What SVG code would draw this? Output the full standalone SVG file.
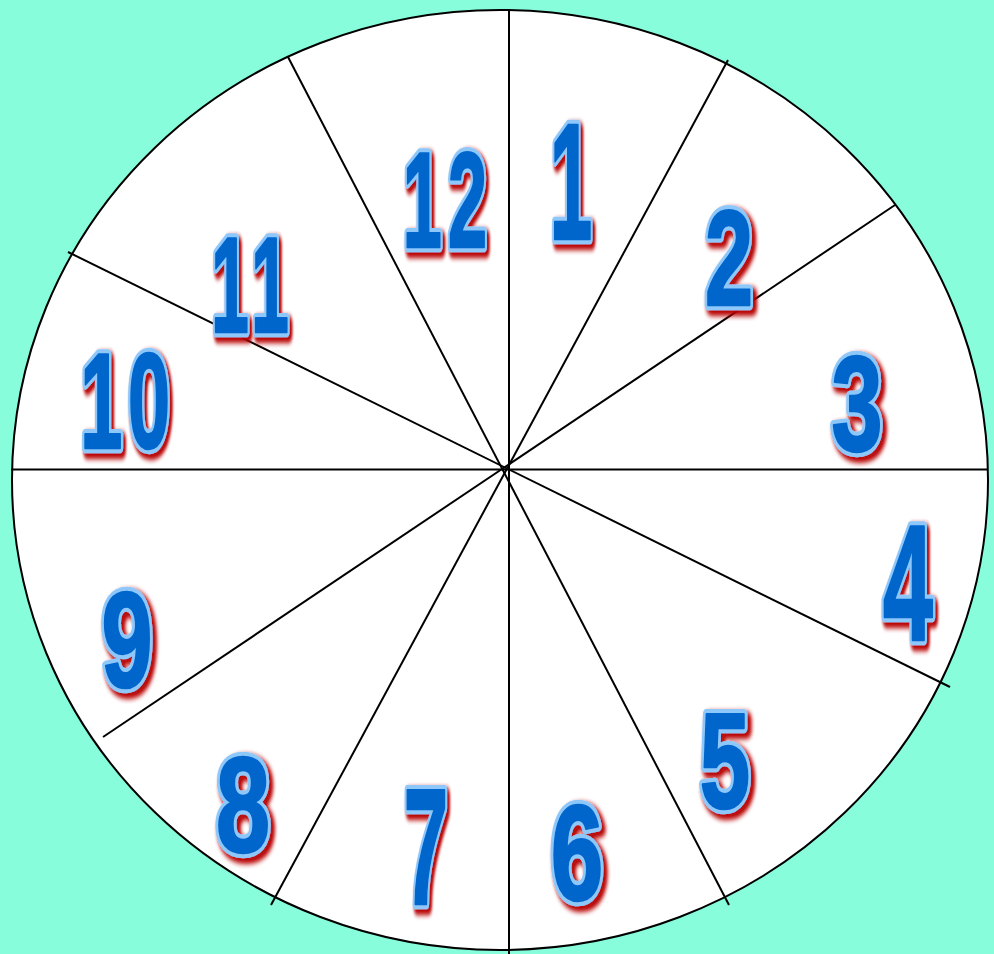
<svg xmlns="http://www.w3.org/2000/svg" width="994" height="954" viewBox="0 0 994 954">
<style>
text{font-family:"Liberation Sans",Arial,sans-serif;font-weight:bold;text-anchor:middle}
.o{fill:#8ec8fb;stroke:#8ec8fb;stroke-width:10.5;stroke-linejoin:round}
.f{fill:#0066cc;stroke:#0066cc;stroke-width:2.5;stroke-linejoin:round}
.num{filter:url(#sh)}
.ln{stroke:#000;stroke-width:2;fill:none}
</style>
<defs>
<filter id="sh" x="-30%" y="-30%" width="160%" height="160%">
<feGaussianBlur in="SourceAlpha" stdDeviation="3" result="b"/>
<feOffset in="b" dx="4" dy="4" result="o"/>
<feFlood flood-color="#b80808"/>
<feComposite in2="o" operator="in" result="s"/>
<feMerge><feMergeNode in="s"/><feMergeNode in="s"/><feMergeNode in="SourceGraphic"/></feMerge>
</filter>
</defs>
<rect width="994" height="954" fill="#88fddc"/>
<g id="dial">
<ellipse cx="500" cy="480" rx="488" ry="470" fill="#fff" stroke="#000" stroke-width="2"/>
</g>
<g id="connectors">
<line class="ln" x1="509" y1="10" x2="509" y2="954"/>
<line class="ln" x1="11" y1="469.5" x2="988" y2="469.5"/>
<line class="ln" x1="288" y1="57" x2="729" y2="905"/>
<line class="ln" x1="728" y1="60" x2="271" y2="905"/>
<line class="ln" x1="895" y1="205" x2="103" y2="737"/>
<line class="ln" x1="68" y1="252" x2="950" y2="687"/>
</g>
<g id="n1" class="num" transform="translate(571,239) scale(0.46,1)"><text class="o" font-size="166">1</text><text class="f" font-size="166">1</text></g>
<g id="n2" class="num" transform="translate(729,305) scale(0.64,1)"><text class="o" font-size="135">2</text><text class="f" font-size="135">2</text></g>
<g id="n3" class="num" transform="translate(857,450) scale(0.68,1)"><text class="o" font-size="135">3</text><text class="f" font-size="135">3</text></g>
<g id="n4" class="num" transform="translate(908,640) scale(0.54,1)"><text class="o" font-size="166">4</text><text class="f" font-size="166">4</text></g>
<g id="n5" class="num" transform="translate(725,808) scale(0.67,1)"><text class="o" font-size="135">5</text><text class="f" font-size="135">5</text></g>
<g id="n6" class="num" transform="translate(577,900) scale(0.70,1)"><text class="o" font-size="135">6</text><text class="f" font-size="135">6</text></g>
<g id="n7" class="num" transform="translate(426,904) scale(0.48,1)"><text class="o" font-size="166">7</text><text class="f" font-size="166">7</text></g>
<g id="n8" class="num" transform="translate(243,852) scale(0.72,1)"><text class="o" font-size="135">8</text><text class="f" font-size="135">8</text></g>
<g id="n9" class="num" transform="translate(127,687) scale(0.68,1)"><text class="o" font-size="135">9</text><text class="f" font-size="135">9</text></g>
<g id="n10" class="num" transform="translate(128,448) scale(0.56,1)"><text class="o" font-size="135" letter-spacing="10">10</text><text class="f" font-size="135" letter-spacing="10">10</text></g>
<g id="n11" class="num" transform="translate(253,332) scale(0.5,1)"><text class="o" font-size="135" letter-spacing="12">11</text><text class="f" font-size="135" letter-spacing="12">11</text></g>
<g id="n12" class="num" transform="translate(448,247) scale(0.52,1)"><text class="o" font-size="135" letter-spacing="12">12</text><text class="f" font-size="135" letter-spacing="12">12</text></g>
</svg>
